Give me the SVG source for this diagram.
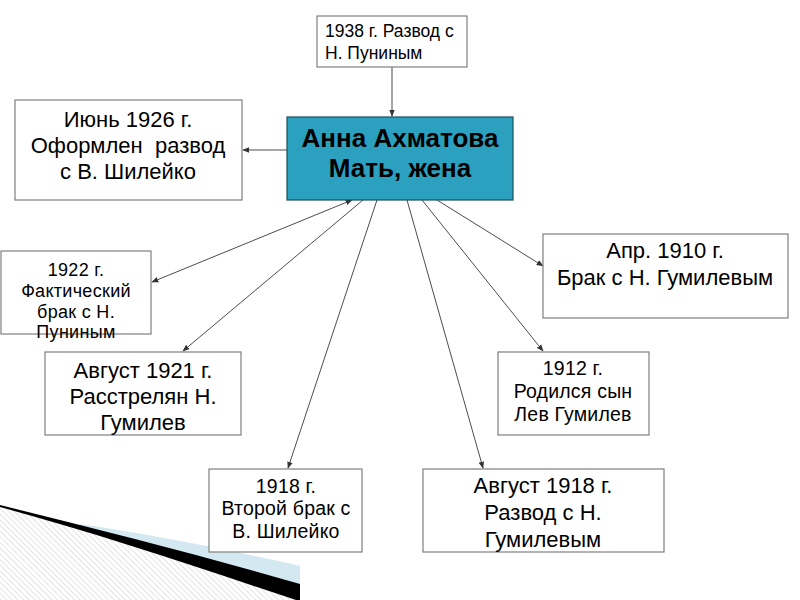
<svg xmlns="http://www.w3.org/2000/svg" width="800" height="600" viewBox="0 0 800 600">
<style>
.box{fill:#fff;stroke:#7f7f7f;stroke-width:1.2}
.t{font-family:"Liberation Sans",Arial,sans-serif;fill:#000;text-anchor:middle}
.s18{font-size:18px;letter-spacing:0.3px}.s19{font-size:19.5px;letter-spacing:0.2px}.s22{font-size:22px}
.c{stroke:#4d4d4d;stroke-width:1;fill:none;marker-end:url(#ah)}
</style>
<defs>
<marker id="ah" viewBox="0 0 10 10" refX="9" refY="5" markerWidth="7" markerHeight="7" orient="auto-start-reverse" markerUnits="userSpaceOnUse"><path d="M0,1 L10,5 L0,9 z" fill="#333"/></marker>
<pattern id="hatch" width="4" height="4" patternUnits="userSpaceOnUse" patternTransform="rotate(-45)"><rect width="4" height="4" fill="#fff"/><line x1="0" y1="0" x2="0" y2="4" stroke="#d4d4d4" stroke-width="1.3"/></pattern>
</defs>
<g id="decor">
<path d="M0,507 C100,534 200,568 300,599 L300,600 L0,600 Z" fill="url(#hatch)"/>
<path d="M80,524 C150,534 230,550 300,566 L300,585 C200,556 140,540 80,526 Z" fill="#d3e8f0"/>
<path d="M0,505 C100,530 200,555 300,584 L300,600 L296,600 C200,568 100,534 0,507 Z" fill="#000"/>
</g>
<g id="connectors">
<line class="c" x1="392" y1="67" x2="392" y2="116"/>
<line class="c" x1="287" y1="150" x2="243" y2="150"/>
<line class="c" x1="352" y1="200" x2="152" y2="282" style="marker-start:url(#ah)"/>
<line class="c" x1="363" y1="200" x2="183" y2="351"/>
<line class="c" x1="377" y1="200" x2="288" y2="468"/>
<line class="c" x1="407" y1="200" x2="483" y2="468"/>
<line class="c" x1="422" y1="200" x2="543" y2="351"/>
<line class="c" x1="437" y1="200" x2="543" y2="266"/>
</g>
<g id="n1938">
<rect class="box" x="317" y="16" width="150" height="51"/>
<text class="t" style="text-anchor:start;font-size:17.5px" x="325" y="37">1938 г. Развод с</text>
<text class="t" style="text-anchor:start;font-size:17.5px" x="325" y="59">Н. Пуниным</text>
</g>
<g id="center">
<rect x="287" y="117" width="226" height="83" fill="#2ca0bf" stroke="#1b4f5c" stroke-width="1.2"/>
<text class="t" x="400" y="147" font-size="26" font-weight="bold">Анна Ахматова</text>
<text class="t" x="400" y="177" font-size="26" font-weight="bold">Мать, жена</text>
</g>
<g id="n1926">
<rect class="box" x="15" y="100" width="227" height="100"/>
<text class="t s22" x="128" y="127">Июнь 1926 г.</text>
<text class="t s22" x="128" y="153" xml:space="preserve">Оформлен  развод</text>
<text class="t s22" x="128" y="179">с В. Шилейко</text>
</g>
<g id="n1922">
<rect class="box" x="1" y="251" width="150" height="83"/>
<text class="t s18" x="76" y="276">1922 г.</text>
<text class="t s18" x="76" y="297">Фактический</text>
<text class="t s18" x="76" y="318">брак с Н.</text>
<text class="t s18" x="76" y="338">Пуниным</text>
</g>
<g id="n1921">
<rect class="box" x="45" y="352" width="196" height="83"/>
<text class="t s22" x="143" y="378">Август 1921 г.</text>
<text class="t s22" x="143" y="404">Расстрелян Н.</text>
<text class="t s22" x="143" y="430">Гумилев</text>
</g>
<g id="n1918a">
<rect class="box" x="209" y="469" width="153" height="83"/>
<text class="t s19" x="286" y="493">1918 г.</text>
<text class="t s19" x="286" y="515">Второй брак с</text>
<text class="t s19" x="286" y="538">В. Шилейко</text>
</g>
<g id="n1918b">
<rect class="box" x="423" y="469" width="241" height="83"/>
<text class="t s22" x="543" y="493">Август 1918 г.</text>
<text class="t s22" x="543" y="520">Развод с Н.</text>
<text class="t s22" x="543" y="547">Гумилевым</text>
</g>
<g id="n1912">
<rect class="box" x="498" y="352" width="151" height="83"/>
<text class="t s19" x="573" y="375">1912 г.</text>
<text class="t s19" x="573" y="398">Родился сын</text>
<text class="t s19" x="573" y="421">Лев Гумилев</text>
</g>
<g id="n1910">
<rect class="box" x="543" y="234" width="245" height="84"/>
<text class="t s22" x="665" y="258">Апр. 1910 г.</text>
<text class="t s22" x="665" y="285">Брак с Н. Гумилевым</text>
</g>
</svg>
